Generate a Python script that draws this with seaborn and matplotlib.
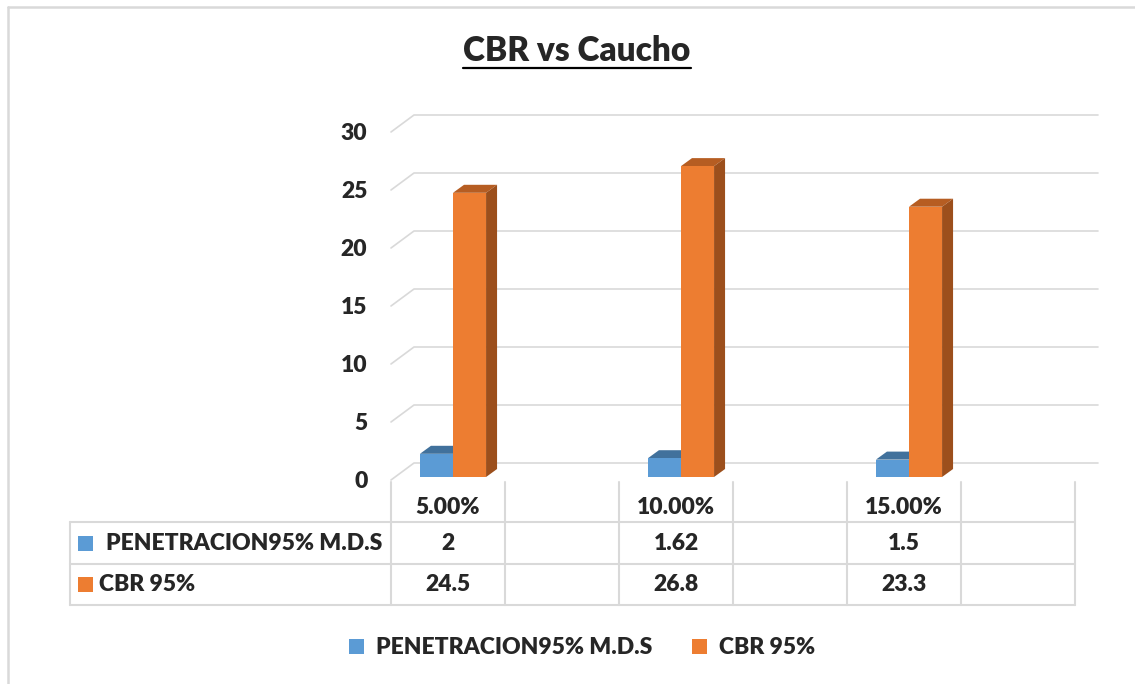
import numpy as np
import pandas as pd
import matplotlib.pyplot as plt
import seaborn as sns
from matplotlib.patches import Polygon, Rectangle, Patch
from matplotlib.lines import Line2D

# --- Data ---
CATEGORIES = ["5.00%", "10.00%", "15.00%"]
SERIES = ["PENETRACION95% M.D.S", "CBR 95%"]
PENETRACION = [2, 1.62, 1.5]
CBR = [24.5, 26.8, 23.3]
Y_TICKS = [0, 5, 10, 15, 20, 25, 30]
TITLE = "CBR vs Caucho"

# empty slots between the categories (blank columns of the data table)
SLOTS = ["5.00%", " ", "10.00%", "  ", "15.00%", "   "]

BLUE, ORANGE = "#5B9BD5", "#ED7D31"
TOP = {BLUE: "#41719C", ORANGE: "#B65D22"}
SIDE = {BLUE: "#3A6590", ORANGE: "#9C4F1C"}
GRID = "#D9D9D9"

W, H = 1135, 684
DPI = 100

sns.set_style("white")
plt.rcParams["font.family"] = ["Lato", "DejaVu Sans"]
WEIGHT = "heavy"

fig = plt.figure(figsize=(W / DPI, H / DPI), dpi=DPI)
# front plane of the 3D plot area (pixels from top-left): x 391..1075, y 132..480
ax = fig.add_axes([391 / W, 1 - 480 / H, 684 / W, 348 / H])

df = pd.DataFrame({
    "cat": CATEGORIES * 2,
    "serie": [SERIES[0]] * 3 + [SERIES[1]] * 3,
    "valor": PENETRACION + CBR,
})

sns.barplot(data=df, x="cat", y="valor", hue="serie", order=SLOTS,
            hue_order=SERIES, palette=[BLUE, ORANGE], saturation=1,
            width=0.58, gap=0, legend=False, edgecolor="none", ax=ax)

ax.set_xlim(-0.5, len(SLOTS) - 0.5)
ax.set_ylim(0, 30)
ax.set_xlabel("")
ax.set_ylabel("")
ax.set_xticks([])
ax.set_yticks(Y_TICKS)
ax.set_yticklabels([str(v) for v in Y_TICKS], fontsize=16.5, fontweight=WEIGHT)
ax.tick_params(axis="y", length=0, pad=17)
for s in ax.spines.values():
    s.set_visible(False)
ax.patch.set_alpha(0)


def to_disp(x, y):
    return ax.transData.transform((x, y))


def to_data(pts):
    return ax.transData.inverted().transform(np.asarray(pts))


# --- back wall gridlines (3D look) ---
GDX, GDY = 23, 17
x_lo, x_hi = -0.5, len(SLOTS) - 0.5
for v in Y_TICKS:
    fl = to_disp(x_lo, v)
    bl = fl + (GDX, GDY)
    br = to_disp(x_hi, v) + (GDX, GDY)
    pts = to_data([fl, bl, br])
    ax.add_line(Line2D(pts[:, 0], pts[:, 1], color=GRID, lw=1.2,
                       zorder=0, clip_on=False))

# --- 3D bars: shift front faces, add top and side faces ---
BX, BY = 5, 3
DX, DY = 11, 8
for container, color in zip(ax.containers, [BLUE, ORANGE]):
    z = 2 if color == BLUE else 4
    for p in container.patches:
        x0, w, h = p.get_x(), p.get_width(), p.get_height()
        if not np.isfinite(h) or h == 0:
            continue
        lb = to_disp(x0, 0) + (BX, BY)
        rt = to_disp(x0 + w, h) + (BX, BY)
        (dx0, dy0), (dx1, dy1) = to_data([lb, rt])
        p.set_x(dx0)
        p.set_y(dy0)
        p.set_width(dx1 - dx0)
        p.set_height(dy1 - dy0)
        p.set_zorder(z)
        p.set_clip_on(False)
        l, b = lb
        r, t = rt
        top = to_data([(l, t), (r, t), (r + DX, t + DY), (l + DX, t + DY)])
        side = to_data([(r, b), (r, t), (r + DX, t + DY), (r + DX, b + DY)])
        ax.add_patch(Polygon(top, closed=True, facecolor=TOP[color],
                             edgecolor="none", zorder=z - 1, clip_on=False))
        ax.add_patch(Polygon(side, closed=True, facecolor=SIDE[color],
                             edgecolor="none", zorder=z - 1, clip_on=False))


# --- helpers in pixel coords (from top-left) ---
def fx(x):
    return x / W


def fy(y):
    return 1 - y / H


def line(xs, ys, color=GRID, lw=1.5):
    fig.add_artist(Line2D([fx(x) for x in xs], [fy(y) for y in ys],
                          color=color, lw=lw, transform=fig.transFigure))


# outer chart border (only top/left visible)
line([8, W + 5], [7, 7], lw=1.8)
line([8, 8], [7, H + 5], lw=1.8)

# --- data table ---
col_edges = [to_disp(i - 0.5, 0)[0] for i in range(len(SLOTS) + 1)]
TABLE_LEFT = 70
ROW_Y = [482, 522, 564, 605]
for xe in col_edges:
    line([xe, xe], [ROW_Y[0], ROW_Y[-1]])
line([TABLE_LEFT, TABLE_LEFT], [ROW_Y[1], ROW_Y[-1]])
for yr in ROW_Y[1:]:
    line([TABLE_LEFT, col_edges[-1]], [yr, yr])

FS = 16.5
slot_centers = [(col_edges[i] + col_edges[i + 1]) / 2 for i in range(len(SLOTS))]
for slot, xc in zip(SLOTS, slot_centers):
    if slot.strip():
        fig.text(fx(xc), fy(507), slot, ha="center", va="center",
                 fontsize=FS, fontweight=WEIGHT)

for row, (name, vals, color) in enumerate(zip(SERIES, [PENETRACION, CBR],
                                              [BLUE, ORANGE])):
    yc = (ROW_Y[row + 1] + ROW_Y[row + 2]) / 2
    fig.add_artist(Rectangle((fx(78), fy(yc + 7.5)), 15 / W, 15 / H,
                             facecolor=color, edgecolor="none",
                             transform=fig.transFigure))
    xt = 106 if row == 0 else 99
    fig.text(fx(xt), fy(yc), name, ha="left", va="center",
             fontsize=FS, fontweight=WEIGHT)
    cat_slots = [i for i, s in enumerate(SLOTS) if s.strip()]
    for i, v in zip(cat_slots, vals):
        fig.text(fx(slot_centers[i]), fy(yc), f"{v:g}", ha="center",
                 va="center", fontsize=FS, fontweight=WEIGHT)

# --- title (underlined) ---
title = fig.text(fx(577), fy(51), TITLE, ha="center", va="center",
                 fontsize=24, fontweight=WEIGHT)
fig.canvas.draw()
bb = title.get_window_extent(fig.canvas.get_renderer())
line([bb.x0, bb.x1], [68, 68], color="black", lw=1.6)

# --- legend ---
handles = [Patch(facecolor=c, edgecolor="none") for c in [BLUE, ORANGE]]
fig.legend(handles, SERIES, loc="center", bbox_to_anchor=(fx(582), fy(648)),
           ncol=2, frameon=False, prop={"size": FS, "weight": WEIGHT},
           handlelength=0.65, handleheight=0.65, handletextpad=0.55,
           columnspacing=1.7)

fig.savefig("out.png", dpi=DPI, facecolor="white")
